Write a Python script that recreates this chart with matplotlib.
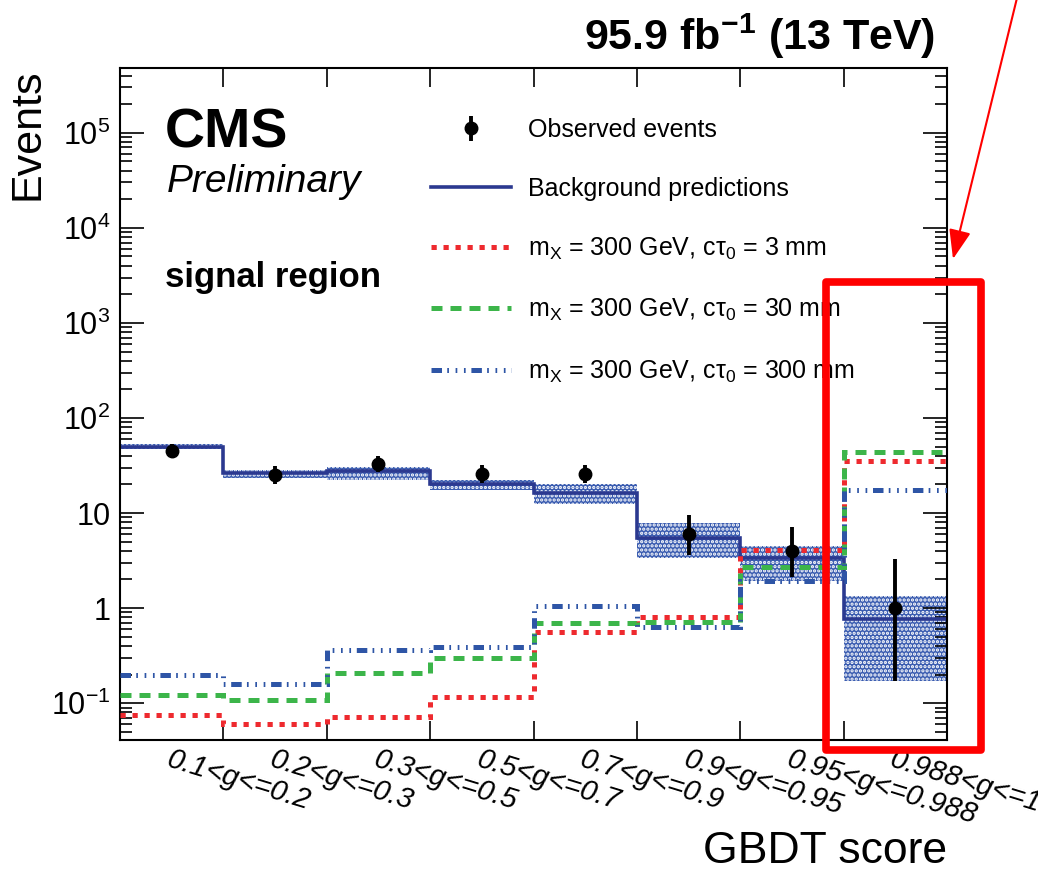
import numpy as np
import matplotlib
matplotlib.use("Agg")
import matplotlib.pyplot as plt
from matplotlib.lines import Line2D
from matplotlib.patches import Rectangle, FancyArrowPatch
from matplotlib.ticker import LogLocator, NullFormatter

plt.rcParams["font.family"] = ["Liberation Sans", "DejaVu Sans"]
plt.rcParams["mathtext.fontset"] = "custom"
plt.rcParams["mathtext.rm"] = "Liberation Sans"
plt.rcParams["mathtext.it"] = "Liberation Sans:italic"
plt.rcParams["mathtext.bf"] = "Liberation Sans:bold"
plt.rcParams["hatch.linewidth"] = 1.6

# GBDT score bins
BIN_LABELS = ["0.1<g<=0.2", "0.2<g<=0.3", "0.3<g<=0.5", "0.5<g<=0.7",
              "0.7<g<=0.9", "0.9<g<=0.95", "0.95<g<=0.988", "0.988<g<=1"]

# background prediction and its uncertainty band
BKG = [50, 26.5, 28, 20, 16.4, 5.5, 3.4, 0.77]
BKG_UP = [53, 28.7, 30.6, 22, 20.3, 7.9, 4.5, 1.34]
BKG_DN = [47, 23.5, 22.5, 17.6, 12.5, 3.4, 1.93, 0.17]

# observed events with asymmetric errors
OBS = [45, 25, 33, 26, 26, 6, 4, 1]
OBS_LO = [6.7, 5.0, 5.7, 5.1, 5.1, 2.4, 1.9, 0.83]
OBS_HI = [7.7, 6.1, 6.8, 6.2, 6.2, 3.6, 3.2, 2.3]

# signal hypotheses, m_X = 300 GeV
SIG_3MM = [0.076, 0.061, 0.071, 0.115, 0.56, 0.80, 4.1, 35]
SIG_30MM = [0.123, 0.107, 0.21, 0.30, 0.69, 0.72, 2.7, 44]
SIG_300MM = [0.20, 0.158, 0.36, 0.39, 1.05, 0.63, 1.95, 17.5]

YTICKS = [1e-1, 1, 10, 1e2, 1e3, 1e4, 1e5]
YTICK_LABELS = [r"$10^{-1}$", "1", "10", r"$10^{2}$", r"$10^{3}$", r"$10^{4}$", r"$10^{5}$"]

W, H = 1038, 873
NAVY = "#2b3990"
RED = "#ee2a2f"
GREEN = "#3cb54a"
BLUE = "#2e55a6"
LW_SIG = 3.6
DOT = (0, (1.05, 1.35))
DASH = (0, (2.2, 1.6))
DASHDOT3 = (0, (2.1, 1.05, 0.34, 1.33, 0.34, 1.33, 0.34, 1.15))


def px(x, y):
    return x / W, 1 - y / H


fig = plt.figure(figsize=(W / 100, H / 100), dpi=100)
ax = fig.add_axes([120 / W, 1 - 740 / H, 827 / W, 672 / H])

edges = np.arange(len(BKG) + 1)
centers = edges[:-1] + 0.5

ax.stairs(BKG_UP, edges, baseline=BKG_DN, fill=True, facecolor="#3a5cb0",
          edgecolor="white", hatch="....", linewidth=0, zorder=1)
ax.stairs(BKG, edges, baseline=None, color=NAVY, linewidth=2.6, zorder=2)

ax.stairs(SIG_3MM, edges, baseline=None, color=RED, linewidth=LW_SIG, linestyle=DOT, zorder=3)
ax.stairs(SIG_30MM, edges, baseline=None, color=GREEN, linewidth=LW_SIG, linestyle=DASH, zorder=3)
ax.stairs(SIG_300MM, edges, baseline=None, color=BLUE, linewidth=LW_SIG, linestyle=DASHDOT3, zorder=3)

obs = ax.errorbar(centers, OBS, yerr=[OBS_LO, OBS_HI], fmt="o", color="black",
                  markersize=9, elinewidth=2.8, capsize=0, zorder=5)

ax.set_yscale("log")
ax.set_xlim(0, len(BKG))
ax.set_ylim(0.041, 4.8e5)

ax.set_xticks(edges)
ax.set_xticklabels([])
ax.set_xticks(centers, minor=True)
ax.set_xticklabels(BIN_LABELS, minor=True, rotation=-17, ha="left", va="top",
                   rotation_mode="anchor", fontstyle="italic", fontsize=21)
ax.set_yticks(YTICKS)
ax.set_yticklabels(YTICK_LABELS, fontsize=22)
ax.yaxis.set_minor_locator(LogLocator(base=10, subs=np.arange(2, 10), numticks=20))
ax.yaxis.set_minor_formatter(NullFormatter())

ax.tick_params(which="both", direction="in", top=True, right=True, width=1.2)
ax.tick_params(axis="x", which="major", length=14)
ax.tick_params(axis="x", which="minor", length=0, pad=4)
ax.tick_params(axis="y", which="major", length=17, pad=7)
ax.tick_params(axis="y", which="minor", length=8.5)
for sp in ax.spines.values():
    sp.set_linewidth(1.5)

ax.set_ylabel("Events", fontsize=31, loc="top")
ax.yaxis.set_label_coords(-0.088, 1.0)
ax.set_xlabel("GBDT score", fontsize=32, loc="right")
ax.xaxis.set_label_coords(1.0, -0.135)

fig.text(*px(165, 148), "CMS", fontsize=40, fontweight="bold", va="baseline")
fig.text(*px(167, 192), "Preliminary", fontsize=28, fontstyle="italic", va="baseline")
fig.text(*px(165, 287), "signal region", fontsize=25, fontweight="bold", va="baseline")
fig.text(*px(935, 50), r"95.9 fb$^{\mathbf{-1}}$ (13 TeV)", fontsize=31,
         fontweight="bold", ha="right", va="baseline")

handles = [
    obs,
    Line2D([], [], color=NAVY, linewidth=2.6),
    Line2D([], [], color=RED, linewidth=LW_SIG, linestyle=DOT),
    Line2D([], [], color=GREEN, linewidth=LW_SIG, linestyle=DASH),
    Line2D([], [], color=BLUE, linewidth=LW_SIG, linestyle=DASHDOT3),
]
labels = [
    "Observed events",
    "Background predictions",
    r"m$_{\mathrm{X}}$ = 300 GeV, c$\mathrm{\tau}_{0}$ = 3 mm",
    r"m$_{\mathrm{X}}$ = 300 GeV, c$\mathrm{\tau}_{0}$ = 30 mm",
    r"m$_{\mathrm{X}}$ = 300 GeV, c$\mathrm{\tau}_{0}$ = 300 mm",
]
fig.legend(handles, labels, loc="upper left", bbox_to_anchor=px(431, 118),
           frameon=False, fontsize=18, borderpad=0, borderaxespad=0,
           handlelength=3.2, handletextpad=0.7, labelspacing=1.4)

# red highlight box and arrow drawn on top of the plot
fig.add_artist(Rectangle(px(826, 750), (981 - 826) / W, (750 - 282) / H,
                         transform=fig.transFigure, fill=False, edgecolor="#ff0000",
                         linewidth=5.5, joinstyle="round", zorder=10))
fig.add_artist(FancyArrowPatch(px(1017, -2), px(953, 259), transform=fig.transFigure,
                               arrowstyle="-|>,head_length=1.2,head_width=0.45",
                               mutation_scale=15, color="#ff0000", linewidth=1.5,
                               shrinkA=0, shrinkB=0, zorder=10))

fig.savefig("out.png", dpi=100)
